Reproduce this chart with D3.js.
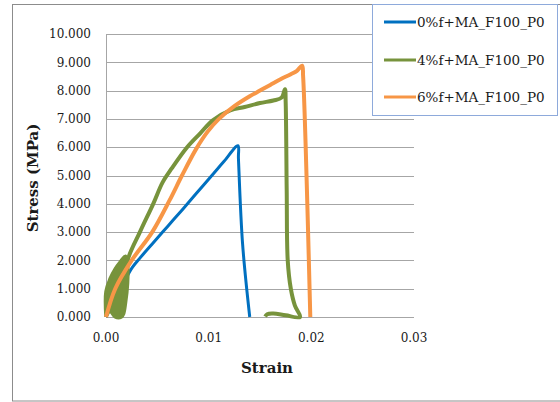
<!DOCTYPE html>
<html>
<head>
<meta charset="utf-8">
<script src="https://cdn.jsdelivr.net/npm/d3@7"></script>
<style>
  body { margin: 0; background: #fff; }
  text { font-family: "DejaVu Serif", serif; fill: #1a1a1a; }
</style>
</head>
<body>
<svg id="chart" width="560" height="402"></svg>
<script>
// series names
var seriesNames = ["0%f+MA_F100_P0", "4%f+MA_F100_P0", "6%f+MA_F100_P0"];
var seriesColors = ["#0070C0", "#77933C", "#F79646"];

// 0% fibre
var strain0 = [0, 0.001, 0.002, 0.0025, 0.0033, 0.0045, 0.006, 0.0075, 0.009, 0.0105, 0.0115, 0.01285, 0.0129, 0.0133, 0.0140];
var stress0 = [0, 0.8, 1.4, 1.72, 2.08, 2.58, 3.2, 3.82, 4.45, 5.08, 5.5, 6.05, 5.6, 2.6, 0];

// 4% fibre (loop near origin, then main curve)
var loopStrain4 = [0, 0, 0.0004, 0.0009, 0.0014, 0.0019, 0.0021, 0.0021, 0.0019, 0.0017, 0.0015, 0.0009, 0.0004, 0];
var loopStress4 = [0, 0.9, 1.35, 1.7, 1.95, 2.15, 1.9, 1.2, 0.5, 0.1, 0, 0, 0.2, 0];
var strain4 = [0.0015, 0.0018, 0.0021, 0.0033, 0.0046, 0.0055, 0.0064, 0.0079, 0.0092, 0.0104, 0.0121, 0.0135, 0.015, 0.0163, 0.0171, 0.01743, 0.0175, 0.0176, 0.0177, 0.018, 0.0184, 0.0189, 0.0175, 0.0163, 0.0157, 0.0155];
var stress4 = [0, 1.0, 2.0, 3.0, 4.0, 4.75, 5.25, 6.0, 6.5, 6.95, 7.3, 7.42, 7.56, 7.65, 7.75, 8.05, 7.6, 4.5, 2.0, 1.0, 0.4, 0, 0.06, 0.12, 0.1, 0.02];

// 6% fibre
var strain6 = [0, 0.0009, 0.0025, 0.0045, 0.0062, 0.0074, 0.0088, 0.0099, 0.011, 0.0125, 0.014, 0.015, 0.016, 0.017, 0.018, 0.0186, 0.0191, 0.0192, 0.0199];
var stress6 = [0, 1.0, 2.0, 3.0, 4.13, 5.0, 5.95, 6.55, 7.0, 7.45, 7.8, 8.0, 8.2, 8.4, 8.58, 8.7, 8.88, 8.5, 0];

var yTicks = [0, 1, 2, 3, 4, 5, 6, 7, 8, 9, 10];
var xTicks = [0, 0.01, 0.02, 0.03];

var svg = d3.select("#chart");

// chart frame
svg.append("rect")
    .attr("x", 12.5).attr("y", 4.5)
    .attr("width", 560).attr("height", 396.5)
    .attr("fill", "#fff")
    .attr("stroke", "#8c8c8c");

var x = d3.scaleLinear().domain([0, 0.03]).range([106, 414]);
var y = d3.scaleLinear().domain([0, 10]).range([317, 34]);

// gridlines
svg.append("g").selectAll("line")
    .data(yTicks)
    .join("line")
    .attr("x1", x(0)).attr("x2", x(0.03))
    .attr("y1", d => Math.round(y(d)) + 0.5)
    .attr("y2", d => Math.round(y(d)) + 0.5)
    .attr("stroke", "#a6a6a6");

svg.append("line")
    .attr("x1", x(0) + 0.5).attr("x2", x(0) + 0.5)
    .attr("y1", y(10)).attr("y2", y(0))
    .attr("stroke", "#a6a6a6");

// tick labels
svg.append("g").selectAll("text")
    .data(yTicks)
    .join("text")
    .attr("x", 91)
    .attr("y", d => y(d))
    .attr("dy", "0.35em")
    .attr("text-anchor", "end")
    .attr("font-size", 12)
    .text(d => d3.format(".3f")(d));

svg.append("g").selectAll("text")
    .data(xTicks)
    .join("text")
    .attr("x", d => x(d))
    .attr("y", 338)
    .attr("dy", "0.35em")
    .attr("text-anchor", "middle")
    .attr("font-size", 12)
    .text(d => d3.format(".2f")(d));

// axis titles
svg.append("text")
    .attr("transform", "translate(33,178) rotate(-90)")
    .attr("text-anchor", "middle")
    .attr("dy", "0.35em")
    .attr("font-size", 15)
    .attr("font-weight", "bold")
    .text("Stress (MPa)");

svg.append("text")
    .attr("x", 267).attr("y", 368)
    .attr("dy", "0.35em")
    .attr("text-anchor", "middle")
    .attr("font-size", 15)
    .attr("font-weight", "bold")
    .text("Strain");

// series
var line = d3.line().x(d => x(d[0])).y(d => y(d[1]))
    .curve(d3.curveCatmullRom.alpha(0.5));
var pts = (a, b) => a.map((v, i) => [v, b[i]]);

var g = svg.append("g");
g.append("path")
    .attr("d", line(pts(strain0, stress0)))
    .attr("fill", "none")
    .attr("stroke", seriesColors[0])
    .attr("stroke-width", 3)
    .attr("stroke-linejoin", "round");
g.append("path")
    .attr("d", line(pts(loopStrain4, loopStress4)))
    .attr("fill", seriesColors[1])
    .attr("stroke", seriesColors[1])
    .attr("stroke-width", 3.5)
    .attr("stroke-linejoin", "round");
g.append("path")
    .attr("d", line(pts(strain4, stress4)))
    .attr("fill", "none")
    .attr("stroke", seriesColors[1])
    .attr("stroke-width", 4)
    .attr("stroke-linejoin", "round");
g.append("path")
    .attr("d", line(pts(strain6, stress6)))
    .attr("fill", "none")
    .attr("stroke", seriesColors[2])
    .attr("stroke-width", 4)
    .attr("stroke-linejoin", "round");

// legend
var lg = svg.append("g");
lg.append("rect")
    .attr("x", 372.5).attr("y", 4.5)
    .attr("width", 185).attr("height", 111)
    .attr("fill", "#fff")
    .attr("stroke", "#8eaadb");

var legY = [22, 60, 97];
seriesNames.forEach(function(name, i) {
    lg.append("line")
        .attr("x1", 384).attr("x2", 416)
        .attr("y1", legY[i]).attr("y2", legY[i])
        .attr("stroke", seriesColors[i])
        .attr("stroke-width", 3);
    lg.append("text")
        .attr("x", 417).attr("y", legY[i])
        .attr("dy", "0.35em")
        .attr("font-size", 13.5)
        .text(name);
});
</script>
</body>
</html>
